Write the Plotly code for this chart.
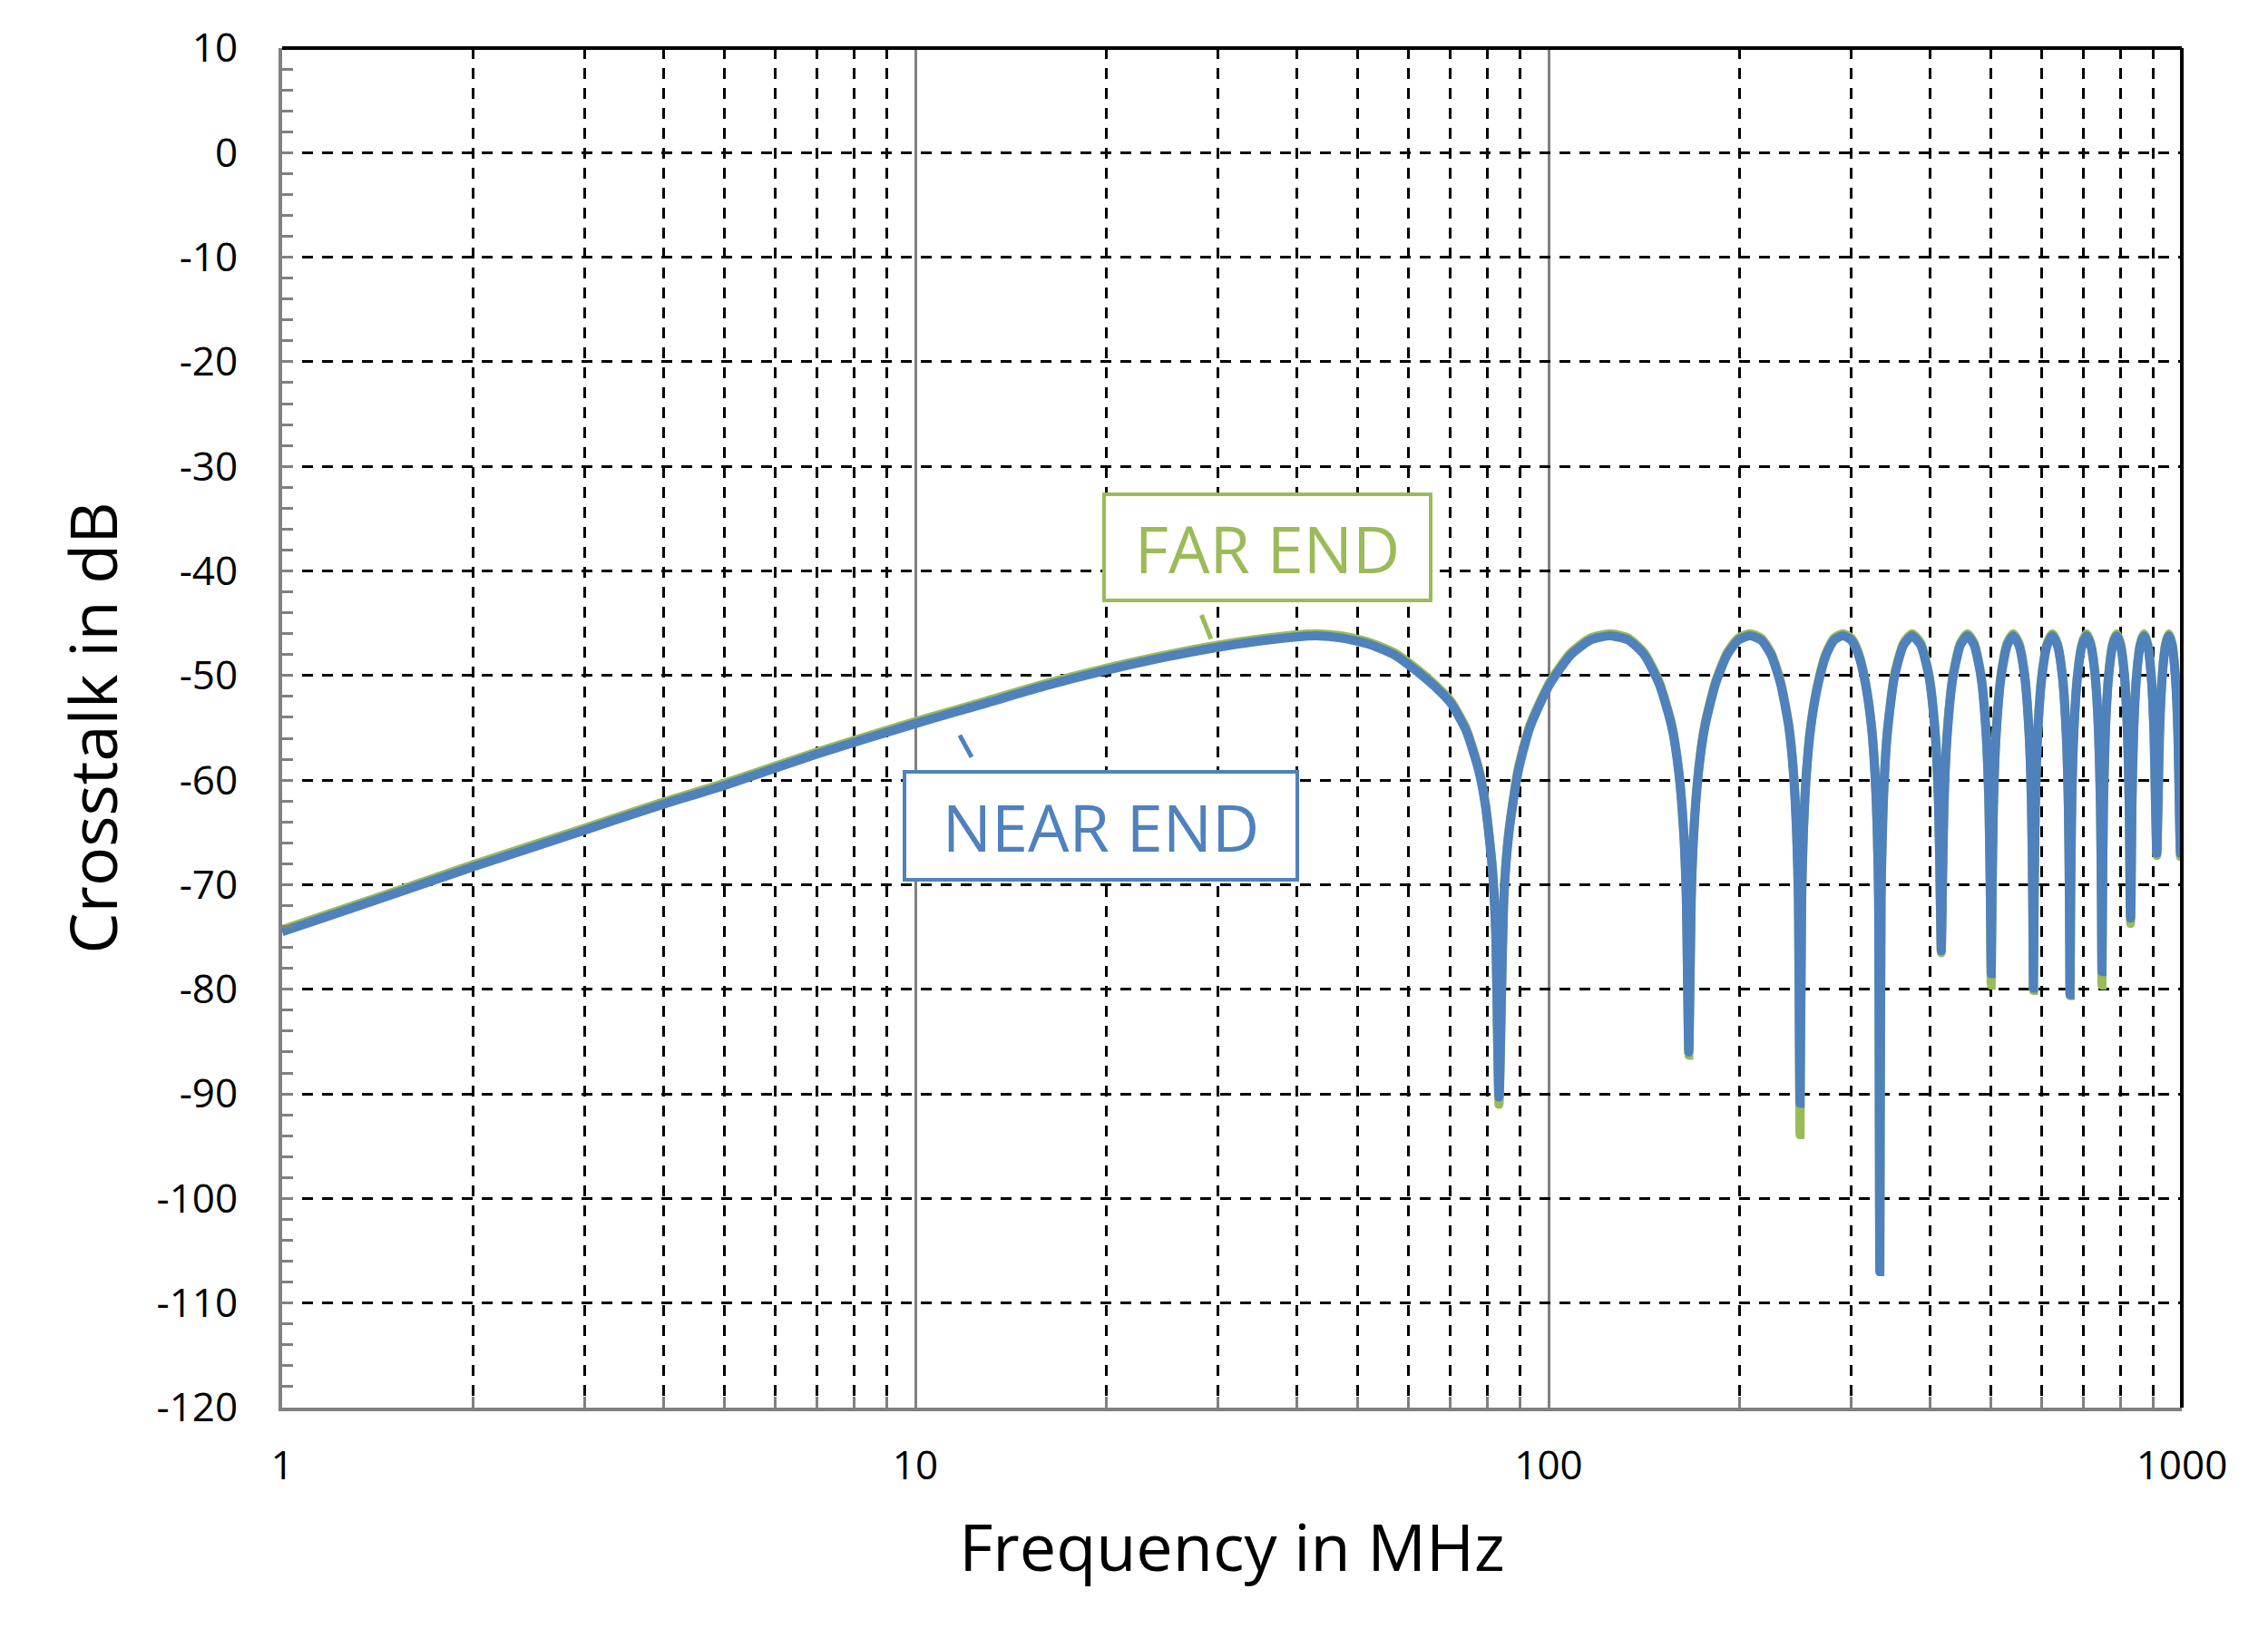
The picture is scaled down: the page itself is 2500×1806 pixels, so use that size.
import plotly.graph_objects as go

# frequency samples (MHz)
freq_mhz = [
    1, 1.5, 2, 3, 4, 5, 7, 10, 13, 16, 20, 25, 30, 35, 40, 43, 47, 52, 57, 62,
    66, 70, 74, 77.5, 79.5, 81.5, 82.5, 83.5,
    85, 86.5, 89.5, 93.5, 100.5, 108.5, 116.5, 125, 133.5, 141.5, 149.5, 156.5,
    160.5, 163.5, 165, 166.5,
    168, 169.5, 172.5, 176.5, 183.5, 191.5, 199.5, 208, 216.5, 224.5, 232.5, 239.5,
    243.5, 246.5, 248, 249.5,
    251, 252.5, 255.5, 259.5, 266.5, 274.5, 282.5, 291.5, 300.5, 308.5, 316.5, 323.5,
    327.5, 330.5, 332, 333.5,
    335, 337.5, 342.5, 351.5, 363.5, 375, 387, 399, 408, 413, 415.5, 417,
    418.5, 421, 426, 435, 447, 458.5, 470, 482, 491, 496, 498.5, 500,
    501.5, 504, 509, 518, 530, 541.5, 553, 565, 574, 579, 581.5, 583,
    584.5, 587, 592, 601, 613, 624.5, 636, 648, 657, 662, 664.5, 666,
    667.5, 670, 675, 684, 696, 707, 718, 730, 739, 744, 746.5, 748,
    749.5, 752, 757, 766, 778, 789, 800, 812, 821, 826, 828.5, 830,
    831.5, 834, 839, 848, 860, 871.5, 883, 895, 904, 909, 913,
    917, 922, 931, 943, 954, 965, 977, 986, 991, 995, 1000,
]

near_end_db = [
    -74.5, -70.9, -68.3, -64.8, -62.3, -60.5, -57.5, -54.6, -52.6, -51.0, -49.5, -48.2,
    -47.3, -46.7, -46.3, -46.2, -46.4, -47.0, -48.0, -49.6, -51.0, -52.6, -55.2, -59.0,
    -62.5, -68.5, -74.5, -90.3,
    -71.2, -65.2, -59.2, -54.9, -50.8, -48.0, -46.6, -46.2, -46.6, -48.0, -50.8, -54.9,
    -59.2, -65.2, -71.2, -86.0,
    -71.2, -65.2, -59.2, -54.9, -50.8, -48.0, -46.6, -46.2, -46.6, -48.0, -50.8, -54.9,
    -59.2, -65.2, -71.2, -90.9,
    -71.2, -65.2, -59.2, -54.9, -50.8, -48.0, -46.6, -46.2, -46.6, -48.0, -50.8, -54.9,
    -59.2, -65.2, -71.2, -107.0,
    -71.2, -62.6, -55.7, -50.2, -47.1, -46.2, -47.1, -50.2, -55.7, -62.6, -71.2, -76.3,
    -71.2, -62.6, -55.7, -50.2, -47.1, -46.2, -47.1, -50.2, -55.7, -62.6, -71.2, -78.5,
    -71.2, -62.6, -55.7, -50.2, -47.1, -46.2, -47.1, -50.2, -55.7, -62.6, -71.2, -79.9,
    -71.2, -62.6, -55.7, -50.2, -47.1, -46.2, -47.1, -50.2, -55.7, -62.6, -71.2, -80.5,
    -71.2, -62.6, -55.7, -50.2, -47.1, -46.2, -47.1, -50.2, -55.7, -62.6, -71.2, -78.3,
    -71.2, -62.6, -55.7, -50.2, -47.1, -46.2, -47.1, -50.2, -55.7, -62.6, -71.2, -73.2,
    -71.2, -62.6, -55.7, -50.2, -47.1, -46.2, -47.1, -50.2, -55.7, -62.6, -67.0,
    -62.6, -55.7, -50.2, -47.1, -46.2, -47.1, -50.2, -55.7, -62.6, -67.0, -55.5,
]

far_end_db = [
    -74.3, -70.7, -68.1, -64.6, -62.1, -60.3, -57.3, -54.4, -52.4, -50.8, -49.3, -48.0,
    -47.1, -46.5, -46.1, -46.0, -46.2, -46.8, -47.8, -49.4, -50.8, -52.4, -55.0, -58.8,
    -62.3, -68.3, -74.3, -91.0,
    -71.0, -65.0, -59.0, -54.7, -50.6, -47.8, -46.4, -46.0, -46.4, -47.8, -50.6, -54.7,
    -59.0, -65.0, -71.0, -86.3,
    -71.0, -65.0, -59.0, -54.7, -50.6, -47.8, -46.4, -46.0, -46.4, -47.8, -50.6, -54.7,
    -59.0, -65.0, -71.0, -93.9,
    -71.0, -65.0, -59.0, -54.7, -50.6, -47.8, -46.4, -46.0, -46.4, -47.8, -50.6, -54.7,
    -59.0, -65.0, -71.0, -107.0,
    -71.0, -62.4, -55.5, -50.0, -46.9, -46.0, -46.9, -50.0, -55.5, -62.4, -71.0, -76.5,
    -71.0, -62.4, -55.5, -50.0, -46.9, -46.0, -46.9, -50.0, -55.5, -62.4, -71.0, -79.6,
    -71.0, -62.4, -55.5, -50.0, -46.9, -46.0, -46.9, -50.0, -55.5, -62.4, -71.0, -80.1,
    -71.0, -62.4, -55.5, -50.0, -46.9, -46.0, -46.9, -50.0, -55.5, -62.4, -71.0, -80.6,
    -71.0, -62.4, -55.5, -50.0, -46.9, -46.0, -46.9, -50.0, -55.5, -62.4, -71.0, -79.6,
    -71.0, -62.4, -55.5, -50.0, -46.9, -46.0, -46.9, -50.0, -55.5, -62.4, -71.0, -73.7,
    -71.0, -62.4, -55.5, -50.0, -46.9, -46.0, -46.9, -50.0, -55.5, -62.4, -67.2,
    -62.4, -55.5, -50.0, -46.9, -46.0, -46.9, -50.0, -55.5, -62.4, -67.3, -55.0,
]

x_tick_vals = [1, 10, 100, 1000]
x_tick_text = ["1", "10", "100", "1000"]
x_minor_vals = [2, 3, 4, 5, 6, 7, 8, 9,
                20, 30, 40, 50, 60, 70, 80, 90,
                200, 300, 400, 500, 600, 700, 800, 900]

y_tick_vals = [10, 0, -10, -20, -30, -40, -50, -60, -70, -80, -90, -100, -110, -120]
y_tick_text = ["10", "0", "-10", "-20", "-30", "-40", "-50", "-60", "-70", "-80",
               "-90", "-100", "-110", "-120"]

green = "#9BBB59"
blue = "#4F81BD"
gray = "#808080"
dash = "12px,10px"

fig = go.Figure()
fig.add_trace(go.Scatter(x=freq_mhz, y=far_end_db, mode="lines", name="FAR END",
                         line=dict(color=green, width=10, shape="spline", smoothing=0.6)))
fig.add_trace(go.Scatter(x=freq_mhz, y=near_end_db, mode="lines", name="NEAR END",
                         line=dict(color=blue, width=10, shape="spline", smoothing=0.6)))

fig.update_xaxes(
    type="log", range=[0, 3],
    tickmode="array", tickvals=x_tick_vals, ticktext=x_tick_text,
    ticks="inside", ticklen=12, tickwidth=3, tickcolor=gray,
    showline=True, linecolor=gray, linewidth=4,
    showgrid=True, gridcolor=gray, gridwidth=3,
    minor=dict(tickmode="array", tickvals=x_minor_vals, ticks="inside", ticklen=12,
               tickwidth=3, tickcolor=gray, showgrid=True, gridcolor="black",
               griddash=dash, gridwidth=3),
    tickfont=dict(size=44, color="black"),
    ticklabelstandoff=22,
    title=dict(text="Frequency in MHz", font=dict(size=72, color="black"), standoff=40),
    zeroline=False,
)
fig.update_yaxes(
    range=[-120, 10],
    tickmode="array", tickvals=y_tick_vals, ticktext=y_tick_text,
    ticks="inside", ticklen=12, tickwidth=3, tickcolor=gray,
    showline=True, linecolor=gray, linewidth=4,
    showgrid=True, gridcolor="black", griddash=dash, gridwidth=3,
    minor=dict(dtick=2, ticks="inside", ticklen=12, tickwidth=3, tickcolor=gray,
               showgrid=False),
    tickfont=dict(size=44, color="black"),
    ticklabelstandoff=36,
    title=dict(text="Crosstalk in dB", font=dict(size=72, color="black"), standoff=20),
    zeroline=False,
)

# black frame on top and right
fig.add_shape(type="line", xref="paper", yref="paper", x0=0, x1=1, y0=1, y1=1,
              line=dict(color="black", width=4))
fig.add_shape(type="line", xref="paper", yref="paper", x0=1, x1=1, y0=0, y1=1,
              line=dict(color="black", width=4))

# leader lines from the labels
fig.add_shape(type="line", xref="x", yref="y", x0=28.3, y0=-44.2, x1=29.3, y1=-46.5,
              line=dict(color=green, width=5))
fig.add_shape(type="line", xref="x", yref="y", x0=11.75, y0=-55.7, x1=12.27, y1=-57.8,
              line=dict(color=blue, width=5))

fig.add_annotation(x=1.5552, y=-37.75, xref="x", yref="y", text="FAR END",
                   showarrow=False, font=dict(size=72, color=green),
                   bordercolor=green, borderwidth=4, borderpad=0, bgcolor="white",
                   width=356, height=113, align="center", valign="middle")
fig.add_annotation(x=1.293, y=-64.37, xref="x", yref="y", text="NEAR END",
                   showarrow=False, font=dict(size=72, color=blue),
                   bordercolor=blue, borderwidth=4, borderpad=0, bgcolor="white",
                   width=429, height=115, align="center", valign="middle")

fig.update_layout(
    width=2484, height=1790,
    margin=dict(l=303, r=87, t=45, b=246),
    paper_bgcolor="white", plot_bgcolor="white",
    font=dict(family="Open Sans", color="black"),
    showlegend=False,
)

fig.write_html("out.html")
